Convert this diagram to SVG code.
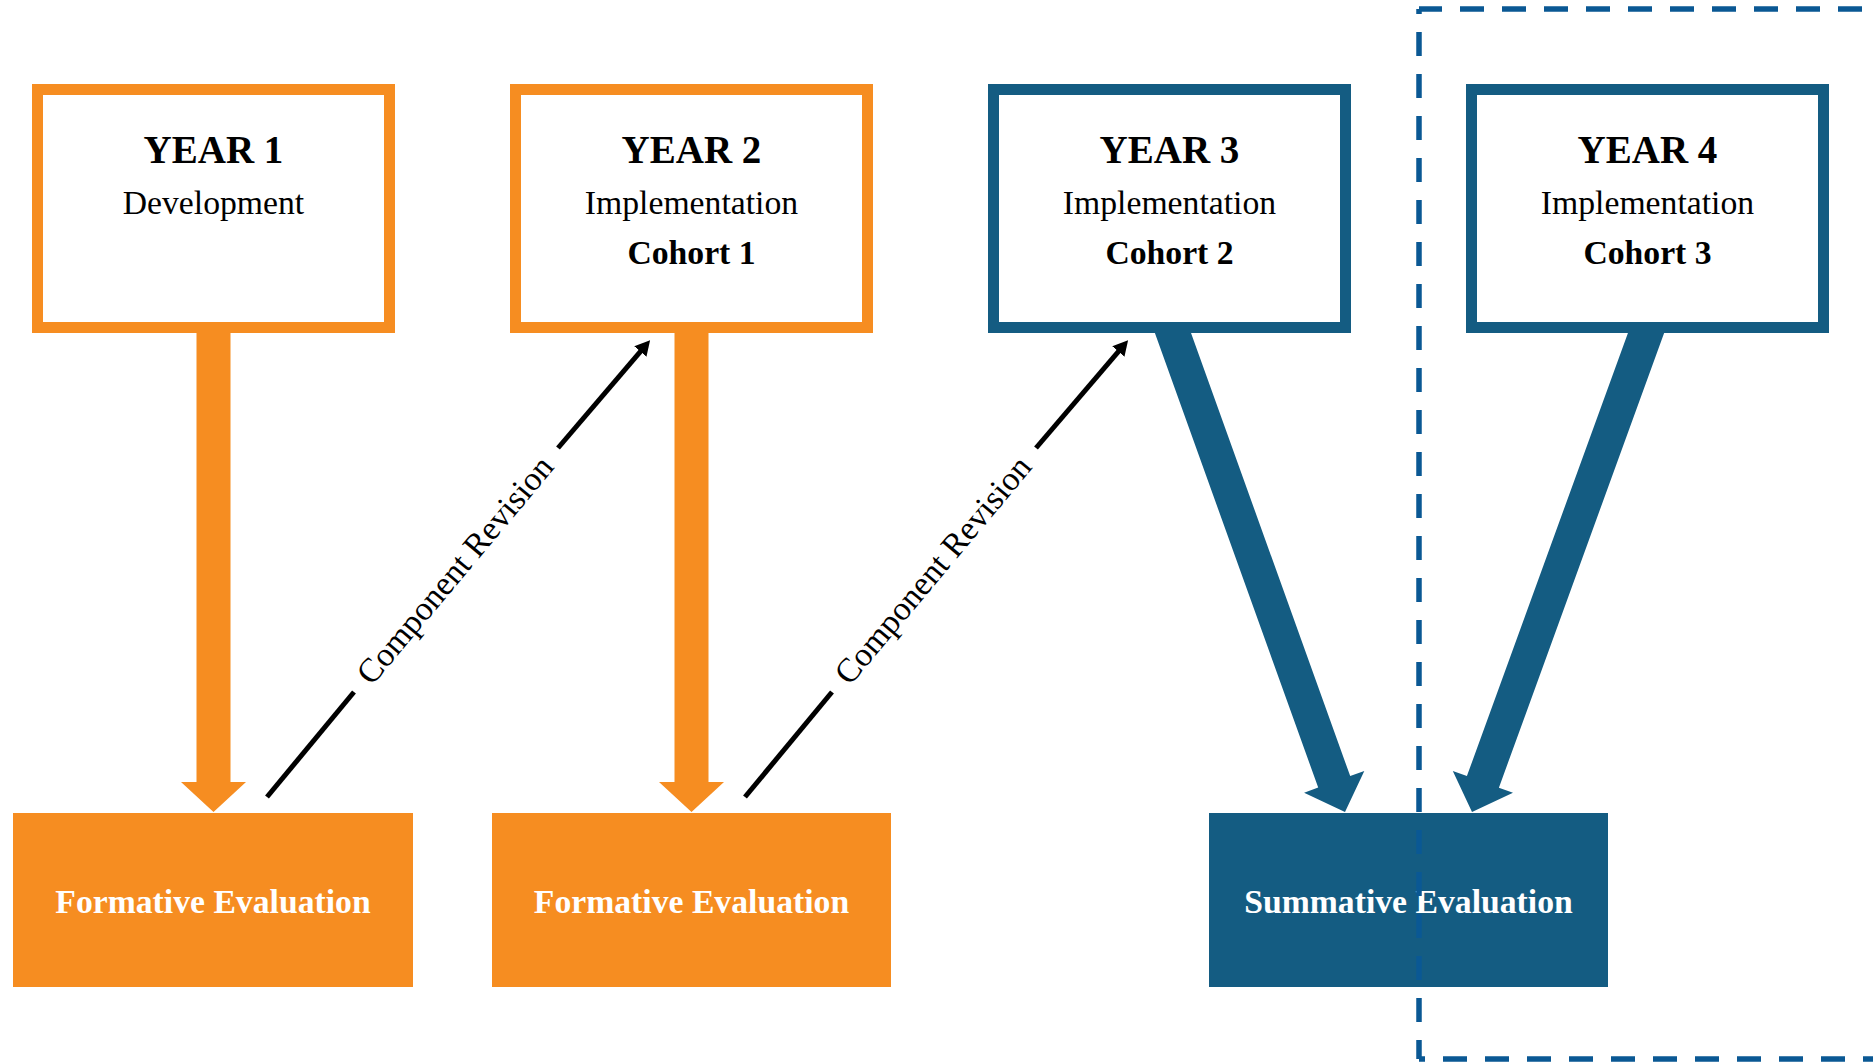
<svg xmlns="http://www.w3.org/2000/svg" width="1873" height="1063" viewBox="0 0 1873 1063">
<defs>
<style>
.yr{fill:#fff;stroke-width:11}
.or{stroke:#F68D21}
.bl{stroke:#145C82}
.t{font-family:"Liberation Serif","Times New Roman",serif;fill:#000;text-anchor:middle}
.h{font-size:39px;font-weight:bold}
.s{font-size:33.7px}
.b{font-weight:bold}
.w{fill:#fff;font-weight:bold;font-size:33.7px}
.cr{stroke:#000;stroke-width:5;fill:none}
</style>
<marker id="ah" markerUnits="userSpaceOnUse" viewBox="0 -10 20 20" markerWidth="20" markerHeight="20" refX="1" refY="0" orient="auto">
<path d="M0,-8 L15,0 L0,8 Z" fill="#000"/>
</marker>
</defs>
<rect width="1873" height="1063" fill="#fff"/>
<g id="connectors">
<path d="M196.5,320 V782 H181 L213.5,812 L246,782 H230.5 V320 Z" fill="#F68D21"/>
<path d="M674.5,320 V782 H659 L691.5,812 L724,782 H708.5 V320 Z" fill="#F68D21"/>
<polygon points="1180.7,304.3 1350.2,776.1 1364.3,771.1 1345,812 1304.1,792.7 1318.2,787.6 1148.7,315.8" fill="#145C82"/>
<polygon points="1670.4,315.8 1498.9,787.7 1513,792.8 1472,812 1452.8,771 1466.9,776.1 1638.4,304.2" fill="#145C82"/>
<line class="cr" x1="267" y1="797" x2="354" y2="692"/>
<line class="cr" x1="558" y1="448" x2="641" y2="350.8" marker-end="url(#ah)"/>
<text class="t s" transform="translate(455,570) rotate(-50.04)" dy="11">Component Revision</text>
<line class="cr" x1="745" y1="797" x2="832" y2="692"/>
<line class="cr" x1="1036" y1="448" x2="1119" y2="350.8" marker-end="url(#ah)"/>
<text class="t s" transform="translate(933,570) rotate(-50.04)" dy="11">Component Revision</text>
</g>
<g id="year1">
<rect class="yr or" x="37.5" y="89.5" width="352" height="238"/>
<text class="t h" x="213.5" y="163">YEAR 1</text>
<text class="t s" x="213.5" y="214">Development</text>
</g>
<g id="year2">
<rect class="yr or" x="515.5" y="89.5" width="352" height="238"/>
<text class="t h" x="691.5" y="163">YEAR 2</text>
<text class="t s" x="691.5" y="214">Implementation</text>
<text class="t s b" x="691.5" y="264">Cohort 1</text>
</g>
<g id="year3">
<rect class="yr bl" x="993.5" y="89.5" width="352" height="238"/>
<text class="t h" x="1169.5" y="163">YEAR 3</text>
<text class="t s" x="1169.5" y="214">Implementation</text>
<text class="t s b" x="1169.5" y="264">Cohort 2</text>
</g>
<g id="year4">
<rect class="yr bl" x="1471.5" y="89.5" width="352" height="238"/>
<text class="t h" x="1647.5" y="163">YEAR 4</text>
<text class="t s" x="1647.5" y="214">Implementation</text>
<text class="t s b" x="1647.5" y="264">Cohort 3</text>
</g>
<g id="formative1">
<rect x="13" y="813" width="400" height="174" fill="#F68D21"/>
<text class="t w" x="213" y="913">Formative Evaluation</text>
</g>
<g id="formative2">
<rect x="492" y="813" width="399" height="174" fill="#F68D21"/>
<text class="t w" x="691.5" y="913">Formative Evaluation</text>
</g>
<g id="summative">
<rect x="1209" y="813" width="399" height="174" fill="#145C82"/>
<text class="t w" x="1408.5" y="913">Summative Evaluation</text>
</g>
<g id="boundary" fill="none" stroke="#0A5894" stroke-width="5.5" stroke-dasharray="24 18">
<path d="M1419,9 H1873" stroke-dashoffset="1"/>
<path d="M1419,9 V1059" stroke-dashoffset="19"/>
<path d="M1419,1059 H1873" stroke-dashoffset="18"/>
</g>
</svg>
